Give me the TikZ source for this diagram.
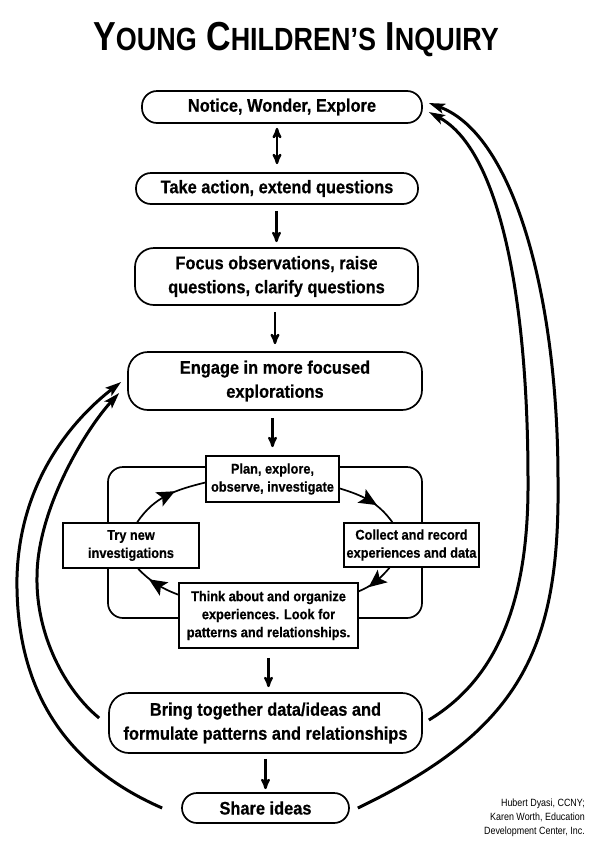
\documentclass[tikz,border=0pt]{standalone}
\usepackage{fontspec}
\setmainfont{Liberation Sans}
\newfontfamily\boxfont[FakeStretch=0.9, BoldFeatures={FakeBold=0.6}]{Liberation Sans}
\newfontfamily\titlefont[FakeStretch=0.84]{Liberation Sans}
\newfontfamily\creditfont[FakeStretch=0.85]{Liberation Sans}
\usetikzlibrary{arrows}
\usetikzlibrary{arrows.meta}
\usetikzlibrary{decorations.markings}

% big capital + smaller capitals
\newcommand{\capword}[2]{#1{\fontsize{32.1}{36}\selectfont #2}}

\tikzset{
  pill/.style={draw, line width=1.7pt, rounded corners=15pt, fill=white, align=center, inner sep=0pt,
    font=\boxfont\bfseries\fontsize{18.2}{24}\selectfont},
  sqbox/.style={draw, line width=1.7pt, fill=white, align=center, inner sep=0pt,
    font=\boxfont\bfseries\fontsize{14.2}{18}\selectfont},
  flow/.style={line width=2.4pt, ->, >=stealth'},
  cycarrow/.style={line width=1.7pt, postaction={decorate},
    decoration={markings, mark=at position 0.5 with {\fill[black] (9pt,0pt) -- (-9pt,8pt) -- (-5pt,0pt) -- (-9pt,-8pt) -- cycle;}}},
  loopback/.style={line width=3pt, -{Stealth[length=16pt,width=10pt,inset=3.5pt]}},
}

\begin{document}
\begin{tikzpicture}[x=1pt,y=1pt]
\useasboundingbox (0,0) rectangle (600,-852);

\node[anchor=base, font=\titlefont\bfseries\fontsize{40.5}{44}\selectfont] (title) at (296,-50)
  {\capword{Y}{OUNG} \capword{C}{HILDREN’S} \capword{I}{NQUIRY}};

% main column
\node[pill, minimum width=280pt, minimum height=32pt] (notice) at (282,-107) {Notice, Wonder, Explore};
\node[pill, minimum width=282pt, minimum height=31pt] (take) at (277,-188.5) {Take action, extend questions};
\node[pill, rounded corners=19pt, minimum width=283pt, minimum height=57pt] (focus) at (276.5,-276.5)
  {Focus observations, raise\\questions, clarify questions};
\node[pill, rounded corners=20pt, minimum width=294pt, minimum height=58pt] (engage) at (275,-381)
  {Engage in more focused\\explorations};

% inner loop
\node[draw, line width=1.7pt, rounded corners=15pt, minimum width=314pt, minimum height=151pt] (loop) at (265,-542.5) {};
\node[sqbox, minimum width=133pt, minimum height=46pt] (plan) at (272.5,-479) {Plan, explore,\\observe, investigate};
\node[sqbox, minimum width=135pt, minimum height=44pt] (collect) at (411.5,-545) {Collect and record\\experiences and data};
\node[sqbox, minimum width=136pt, minimum height=45pt] (try) at (131,-545.5) {Try new\\investigations};
\node[sqbox, minimum width=179pt, minimum height=65pt] (think) at (268.5,-615.5)
  {Think about and organize\\experiences. Look for\\patterns and relationships.};

\node[pill, rounded corners=20pt, minimum width=313pt, minimum height=60pt] (bring) at (265.5,-723)
  {Bring together data/ideas and\\formulate patterns and relationships};
\node[pill, minimum width=167pt, minimum height=30pt] (share) at (265.5,-808) {Share ideas};

\node[anchor=north east, align=right, inner sep=0pt, font=\creditfont\fontsize{10.5}{14}\selectfont] (credit) at (585,-799)
  {Hubert Dyasi, CCNY;\\Karen Worth, Education\\Development Center, Inc.};

% straight arrows
\draw[flow, <->, shorten <=4pt, shorten >=8pt] (notice.south -| take.north) -- (take.north);
\draw[flow, shorten <=6pt, shorten >=5pt] (take.south -| focus.north) -- (focus.north);
\draw[flow, shorten <=6pt, shorten >=7pt] (focus.south -| engage.north) -- (engage.north);
\draw[flow, shorten <=7pt, shorten >=8pt] (engage.south -| plan.north) -- (plan.north);
\draw[flow, shorten <=9pt, shorten >=5pt] (think.south) -- (think.south |- bring.north);
\draw[flow, shorten <=5pt, shorten >=3pt] (bring.south -| share.north) -- (share.north);

% cycle
\draw[cycarrow] (plan.-8) to[out=-17, in=126] (collect.130);
\draw[cycarrow] (collect.226) to[out=-131, in=23] (think.15);
\draw[cycarrow] (think.167) to[out=159, in=-45] (try.-73);
\draw[cycarrow] (try.75) to[out=56, in=-166] (plan.183);

% long return curves
\draw[loopback] ([xshift=8pt]share.east) .. controls (520,-730) and (560,-650) .. (558,-480)
  .. controls (558,-300) and (515,-135) .. ([xshift=6pt,yshift=4pt]notice.east);
\draw[loopback] ([xshift=6pt,yshift=3pt]bring.east) .. controls (495,-680) and (529,-605) .. (528,-480)
  .. controls (528,-300) and (500,-150) .. ([xshift=6pt,yshift=-5pt]notice.east);
\draw[loopback] ([xshift=-19pt]share.west) .. controls (75,-770) and (15,-700) .. (17,-577)
  .. controls (20,-470) and (85,-410) .. ([xshift=-6pt,yshift=-1pt]engage.west);
\draw[loopback] ([xshift=-9pt,yshift=5pt]bring.west) .. controls (65,-690) and (36,-635) .. (37,-577)
  .. controls (37,-510) and (85,-430) .. ([xshift=-8pt,yshift=-12pt]engage.west);
\end{tikzpicture}
\end{document}
